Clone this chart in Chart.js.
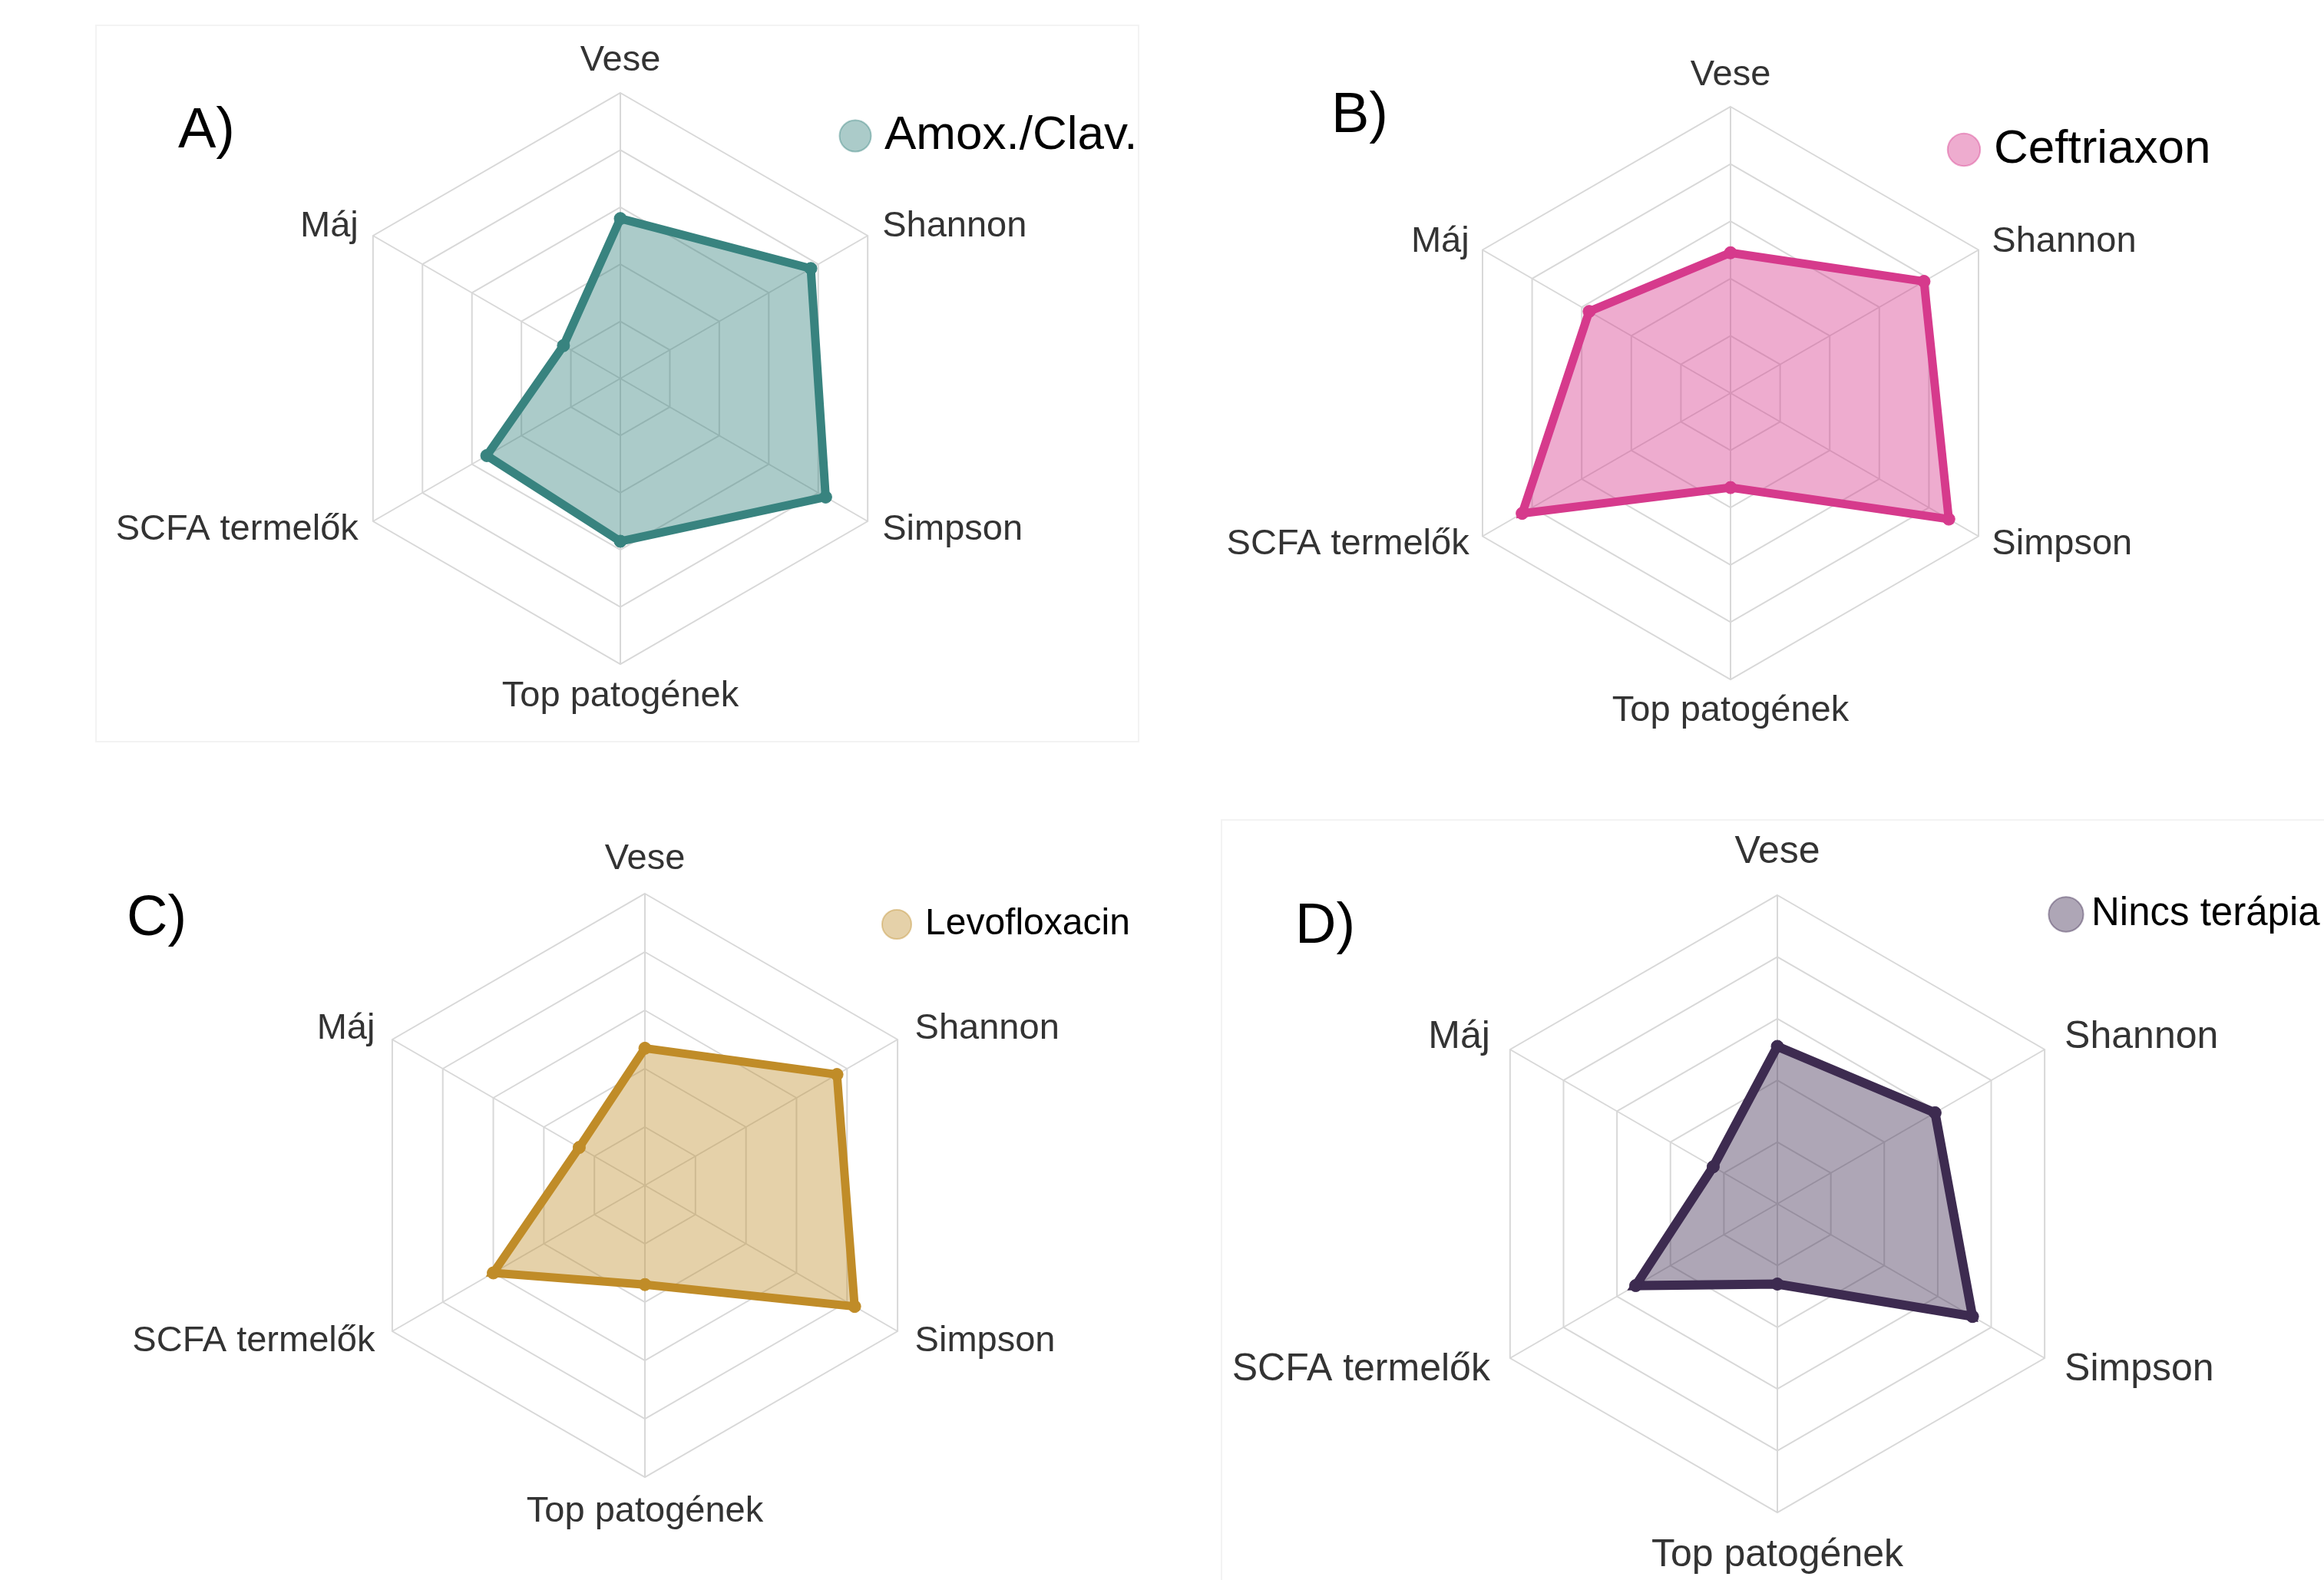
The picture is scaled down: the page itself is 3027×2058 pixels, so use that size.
<!DOCTYPE html>
<html>
<head>
<meta charset="utf-8">
<script src="https://cdn.jsdelivr.net/npm/chart.js@4.4.1/dist/chart.umd.min.js"></script>
<style>
  html, body { margin: 0; padding: 0; background: #fff; overflow: hidden; width: 3027px; height: 2058px; }
  .frame { position: absolute; border: 2px solid #f3f3f3; box-sizing: border-box; }
  .tag { position: absolute; font-family: 'Liberation Sans', Arial, sans-serif; font-size: 74px; line-height: 74px; color: #000; white-space: nowrap; }
  canvas { position: absolute; }
</style>
</head>
<body>
<div class="frame" style="left:124px;top:32px;width:1360px;height:935px"></div>
<div class="frame" style="left:1590px;top:1067px;width:1500px;height:1100px"></div>
<div class="tag" style="left:232px;top:130px">A)</div>
<div class="tag" style="left:1734px;top:110px">B)</div>
<div class="tag" style="left:165px;top:1156px">C)</div>
<div class="tag" style="left:1687px;top:1166px">D)</div>
<script>
// Axes of every radar, clockwise from the top
const axisLabels = ['Vese', 'Shannon', 'Simpson', 'Top patogének', 'SCFA termelők', 'Máj'];

// Normalised scores (0–1) per therapy group, in axis order
const amoxClav     = [0.56, 0.77, 0.83, 0.57, 0.54, 0.23];
const ceftriaxon   = [0.49, 0.78, 0.88, 0.33, 0.84, 0.57];
const levofloxacin = [0.47, 0.76, 0.83, 0.34, 0.60, 0.26];
const nincsTerapia = [0.51, 0.59, 0.73, 0.26, 0.53, 0.24];

const groupNames = ['Amox./Clav.', 'Ceftriaxon', 'Levofloxacin', 'Nincs terápia'];
const groupValues = [amoxClav, ceftriaxon, levofloxacin, nincsTerapia];

const FONT = "'Liberation Sans', Arial, sans-serif";
Chart.defaults.font.family = FONT;

// Layout and styling of the four panels
const panelStyles = [
  { line: '#38837f', fill: 'rgba(56,131,127,0.42)', width: 11,
    cx: 808, cy: 493, r: 372, font: 47, padV: 14, lhV: 56, padS: 22,
    legend: { x: 1114, y: 177, font: 62, boxW: 14, boxH: 29 } },
  { line: '#d63a8c', fill: 'rgba(214,58,140,0.42)', width: 11,
    cx: 2254, cy: 512, r: 373, font: 47, padV: 13, lhV: 56, padS: 20,
    legend: { x: 2558, y: 195, font: 62, boxW: 16, boxH: 30 } },
  { line: '#c08c28', fill: 'rgba(192,145,50,0.42)', width: 11,
    cx: 840, cy: 1544, r: 380, font: 47, padV: 17, lhV: 56, padS: 26,
    legend: { x: 1168, y: 1204, font: 48, boxW: 26, boxH: 27 } },
  { line: '#3d2b50', fill: 'rgba(61,43,80,0.42)', width: 12,
    cx: 2315, cy: 1568, r: 402, font: 50, padV: 26, lhV: 60, padS: 30,
    legend: { x: 2691, y: 1191, font: 51, boxW: 15, boxH: 32 } }
];

// Puts the legend at a fixed spot inside the canvas without taking layout space
function legendPlacer(x, y, pad, boxW, font) {
  return {
    id: 'legendPlacer',
    afterLayout(chart) {
      const lg = chart.legend;
      if (!lg) return;
      lg.left = x - pad - boxW / 2;
      lg.top = y - pad - font / 2;
      lg.width = 1400;
      lg.height = 300;
      lg.right = lg.left + lg.width;
      lg.bottom = lg.top + lg.height;
    }
  };
}

panelStyles.forEach((p, i) => {
  // Room for the top/bottom axis labels so the web keeps radius p.r
  const edge = p.padV + p.lhV;
  const r0 = p.r + edge;
  const half = Math.ceil(0.87 * (r0 + p.padS) + 7.5 * p.font);
  const W = 2 * half, H = 2 * r0;
  const left = p.cx - half, top = p.cy - r0;

  const canvas = document.createElement('canvas');
  canvas.width = W; canvas.height = H;
  canvas.style.left = left + 'px';
  canvas.style.top = top + 'px';
  canvas.style.width = W + 'px';
  canvas.style.height = H + 'px';
  document.body.appendChild(canvas);

  const lp = p.legend;
  const legendPad = 30;

  new Chart(canvas, {
    type: 'radar',
    data: {
      labels: axisLabels,
      datasets: [{
        label: groupNames[i],
        data: groupValues[i],
        borderColor: p.line,
        backgroundColor: p.fill,
        borderWidth: p.width,
        fill: true,
        pointRadius: 8,
        pointHoverRadius: 8,
        pointBackgroundColor: p.line,
        pointBorderColor: p.line,
        pointBorderWidth: 1
      }]
    },
    options: {
      responsive: false,
      animation: false,
      devicePixelRatio: 1,
      layout: { padding: 0 },
      scales: {
        r: {
          min: 0,
          max: 1,
          ticks: { display: false, stepSize: 0.2 },
          grid: { color: '#d8d8d8', lineWidth: 2 },
          angleLines: { color: '#d8d8d8', lineWidth: 2 },
          pointLabels: {
            color: '#333333',
            padding: (c) => (c.index % 3 === 0 ? p.padV : p.padS),
            font: (c) => ({
              family: FONT,
              size: p.font,
              lineHeight: (c.index % 3 === 0 ? p.lhV : 1) + 'px'
            })
          }
        }
      },
      plugins: {
        tooltip: { enabled: false },
        legend: {
          position: 'chartArea',
          fullSize: false,
          align: 'start',
          labels: {
            usePointStyle: true,
            pointStyle: 'circle',
            boxWidth: lp.boxW,
            boxHeight: lp.boxH,
            padding: legendPad,
            color: '#1e1e1e',
            font: { family: FONT, size: lp.font },
            generateLabels: (chart) => chart.data.datasets.map((ds, k) => ({
              text: ds.label,
              fillStyle: ds.backgroundColor,
              strokeStyle: ds.backgroundColor,
              lineWidth: 2,
              pointStyle: 'circle',
              hidden: false,
              datasetIndex: k
            }))
          }
        }
      }
    },
    plugins: [legendPlacer(lp.x - left, lp.y - top, legendPad, lp.boxW, lp.font)]
  });
});
</script>
</body>
</html>
